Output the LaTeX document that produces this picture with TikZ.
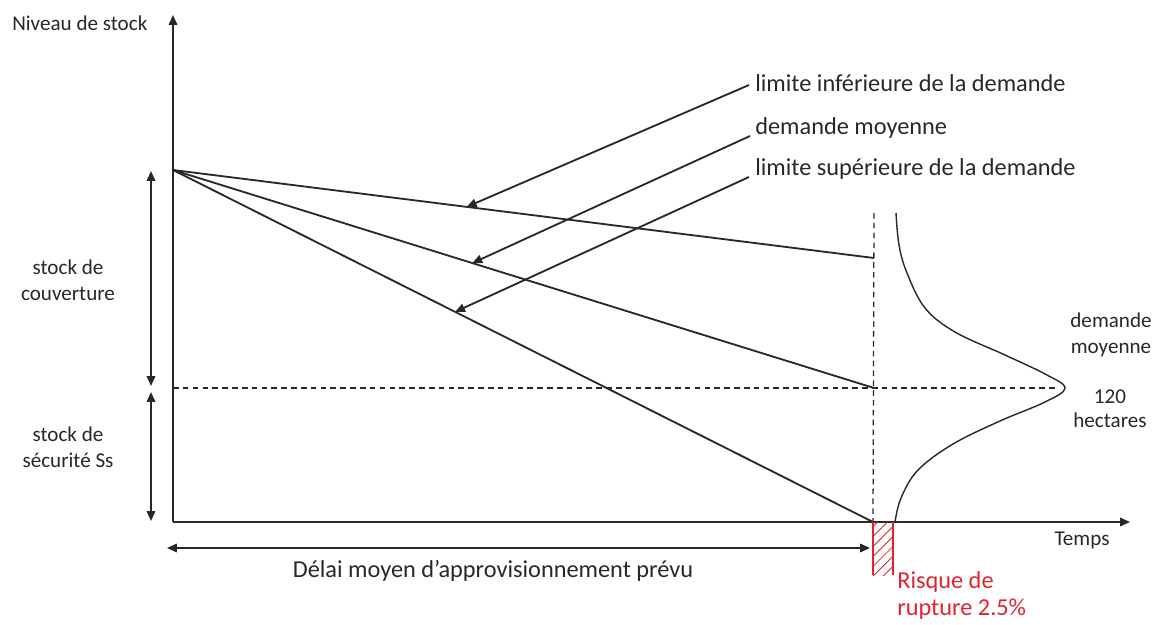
\documentclass[tikz,border=0pt]{standalone}
\usepackage{fontspec}
\setmainfont{Carlito}
\usetikzlibrary{arrows.meta,patterns.meta,positioning}
\definecolor{gristrait}{RGB}{40,40,40}
\definecolor{rouge}{RGB}{225,35,45}

\begin{document}
\begin{tikzpicture}[
    x=0.025cm, y=-0.025cm, % une unité = un pixel de l'image
    trait/.style={line width=1.3pt, draw=gristrait},
    fleche/.style={trait, -{Triangle[length=7pt,width=6pt]}},
    fleches/.style={trait, {Triangle[length=7pt,width=6pt]}-{Triangle[length=7pt,width=6pt]}},
    pointille/.style={line width=0.9pt, draw=gristrait, dash pattern=on 4pt off 3pt},
    grand/.style={font=\fontsize{17.3}{20}\selectfont, text=gristrait, inner sep=0pt},
    petit/.style={font=\fontsize{15}{18.5}\selectfont, text=gristrait, inner sep=0pt, align=center}
]
\useasboundingbox (0,0) rectangle (1162,624);

% Axes
\coordinate (O) at (173,522);
\coordinate (ymax) at (173,15);
\coordinate (xmax) at (1130,522);
\draw[fleche] (O) -- (ymax);
\draw[fleche] (O) -- (xmax);
\node[petit, anchor=west] (niveau) at (12,23) {Niveau de stock};
\node[petit] (temps) at (1082,540) {Temps};

% Droites de consommation
\coordinate (S) at (173,170);
\coordinate (Ehaut) at (874,258);
\coordinate (Emoy) at (874,388);
\coordinate (Ebas) at (873,522);
\draw[trait] (S) -- (Ehaut);
\draw[trait] (S) -- (Emoy);
\draw[trait] (S) -- (Ebas);

% Pointillés
\coordinate (vhaut) at (874,213);
\coordinate (hgauche) at (173,388);
\coordinate (pic) at (1065,388);
\draw[pointille] (vhaut) -- (Ebas);
\draw[pointille] (hgauche) -- ([xshift=-6]pic);

% Courbe de la demande
\draw[trait, line width=1pt] plot[smooth, tension=0.6] coordinates {
    (896,213) (899,245) (907,273) (925,308) (955,332) (1005,355)
    (1045,374) (1065,388) (1045,402) (1000,421) (953,444) (918,470)
    (901,498) (895,522)};

% Zone de rupture
\coordinate (r1) at (873,522);
\coordinate (r2) at (893,575);
\fill[pattern={Lines[angle=45, distance=5pt, line width=0.6pt]}, pattern color=rouge] (r1) rectangle (r2);
\draw[rouge, line width=1.4pt] (r1) -- (r1 |- r2);
\draw[rouge, line width=1.4pt] (r2 |- r1) -- (r2);
\node[grand, text=rouge, align=left, anchor=west,
    font=\fontsize{17.3}{19.2}\selectfont] (risque) at (897,596) {Risque de\\rupture 2.5\%};

% Légendes des droites
\node[grand, anchor=west] (linf) at (755,83) {limite inférieure de la demande};
\node[grand, anchor=west] (lmoy) at (755,128) {demande moyenne};
\node[grand, anchor=west] (lsup) at (755,169) {limite supérieure de la demande};
\path (S) -- (Ehaut) coordinate[pos=0.419] (tinf);
\path (S) -- (Emoy) coordinate[pos=0.427] (tmoy);
\path (S) -- (Ebas) coordinate[pos=0.403] (tsup);
\draw[fleche] ([shift={(-6,2)}]linf.west) -- (tinf);
\draw[fleche] ([shift={(-5,8)}]lmoy.west) -- (tmoy);
\draw[fleche] ([shift={(-6,8)}]lsup.west) -- (tsup);

% Stocks à gauche
\coordinate (c1) at (151,171);
\coordinate (c2) at (151,386);
\coordinate (c3) at (151,392);
\coordinate (c4) at (151,521);
\draw[fleches] (c1) -- (c2);
\draw[fleches] (c3) -- (c4);
\node[petit] (couv) at (68,280) {stock de\\couverture};
\node[petit] (secu) at (68,447) {stock de\\sécurité Ss};

% Délai
\coordinate (d1) at (167,548);
\coordinate (d2) at (870,548);
\draw[fleches] (d1) -- (d2);
\node[grand] (delai) at (493,571) {Délai moyen d{\char"0027}approvisionnement prévu};

% Demande moyenne
\node[petit] (dmoy) at (1111,335) {demande\\moyenne};
\node[petit, font=\fontsize{15}{17}\selectfont] (qte) at (1110,409) {120\\hectares};
\end{tikzpicture}
\end{document}
